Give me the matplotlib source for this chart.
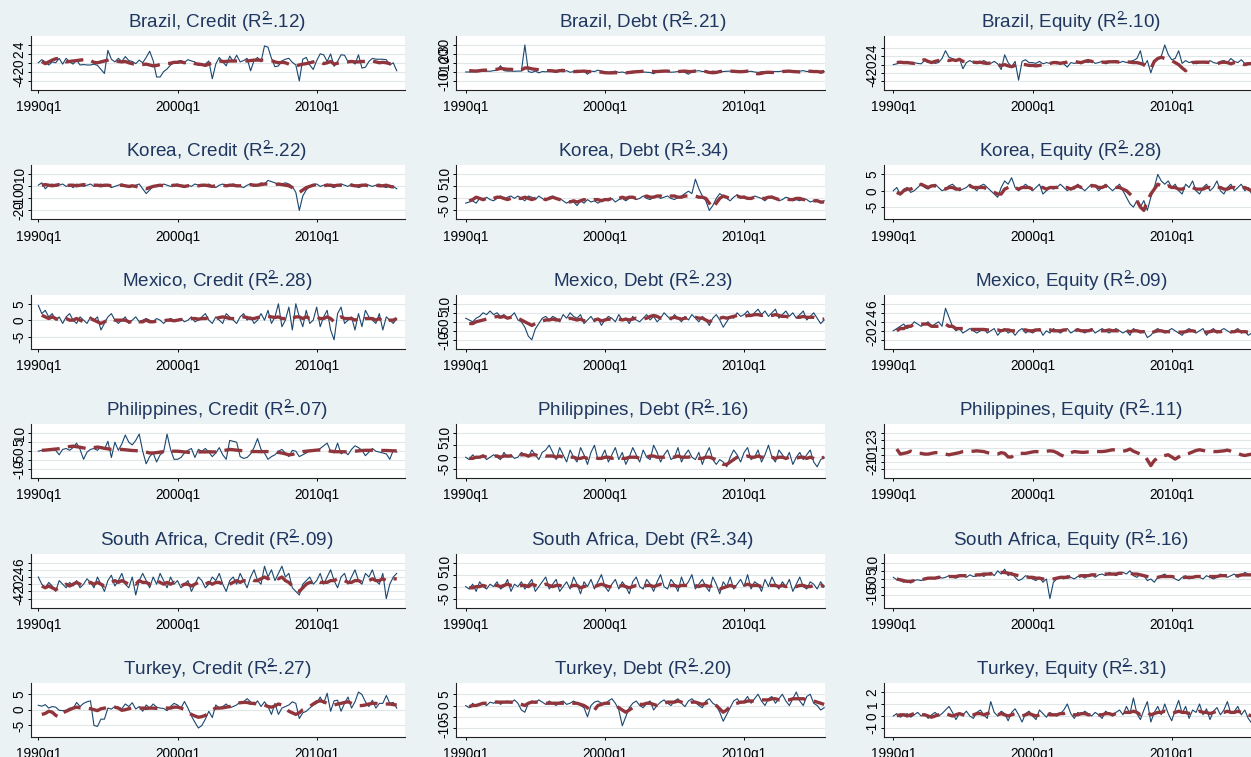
import numpy as np
import matplotlib
matplotlib.use("Agg")
import matplotlib.pyplot as plt

# ---------------- data ----------------
X_TICKS = [0, 40, 80]
X_LABELS = ["1990q1", "2000q1", "2010q1"]
COUNTRIES = ["Brazil", "Korea", "Mexico", "Philippines", "South Africa", "Turkey"]
KINDS = ["Credit", "Debt", "Equity"]
R2 = [[".12", ".21", ".10"],
      [".22", ".34", ".28"],
      [".28", ".23", ".09"],
      [".07", ".16", ".11"],
      [".09", ".34", ".16"],
      [".27", ".20", ".31"]]
YTICKS = [[[-4, -2, 0, 2, 4], [-10, 0, 10, 20, 30], [-4, -2, 0, 2, 4]],
          [[-20, -10, 0, 10], [-5, 0, 5, 10], [-5, 0, 5]],
          [[-5, 0, 5], [-10, -5, 0, 5, 10], [-2, 0, 2, 4, 6]],
          [[-10, -5, 0, 5, 10], [-5, 0, 5, 10], [-2, -1, 0, 1, 2, 3]],
          [[-4, -2, 0, 2, 4, 6], [-5, 0, 5, 10], [-10, -5, 0, 5, 10]],
          [[-5, 0, 5], [-10, -5, 0, 5], [-1, 0, 1, 2]]]

BRA_CR = [0, 0.7, 0.2, -0.5, 0.2, 0, 1.0, -0.3,
          1.0, 0.2, -0.3, 0.6, -0.5, -0.4, -0.5, -0.5,
          -0.3, -0.6, -1.5, -2.4, 2.8, 0.8, 0.2, 1.0,
          0.3, 1.4, 0.5, 0.3, -0.2, 0.6, 0.0, 1.2,
          2.6, 0.5, -3.2, -3.2, -2.0, -1.4, -0.5, 0.0,
          0.3, 0.5, 0.1, 0.7, 0.4, 0.2, -0.6, -0.5,
          -0.3, 0.4, -3.6, -0.3, 1.2, 0.2, -0.7, 1.5,
          0.3, 1.7, 0.2, 0.5, 1.0, -1.8, 0.5, 1.2,
          0.2, 3.8, 3.5, 1.0, -0.9, -0.7, 0.4, 0.8,
          1.0, 0.1, -0.5, -4.1, 0.8, 1.2, -0.5, -1.5,
          0.5, 2.0, 1.8, 0.3, 2.0, -0.8, 0.3, 1.8,
          1.7, 0.2, 0.5, -0.3, 1.8, -1.2, -1.0, 0.3,
          1.0, 0.8, 0.8, 0.8, 0.7, -0.5, 0.0, -1.8]
BRA_CR_FIT = [None, 0.3, -0.2, 0.2, 0.6, 0.9, 1.0, 0.6,
              0.2, 0.3, 0.4, 0.5, 0.6, 0.7, 0.8, 0.5,
              0.1, 0.0, 0.2, 0.4, 0.6, 0.8, 0.5, 0.3,
              0.2, 0.3, 0.0, -0.2, -0.4, -0.5, -0.4, -0.3,
              -0.5, -0.7, -0.6, -0.4, -0.3, -0.2, -0.1, 0.1,
              0.1, 0.2, 0.0, 0.2, 0.1, -0.2, -0.3, -0.4,
              -0.6, -0.3, -0.1, 0.3, 0.4, 0.3, 0.3, 0.4,
              0.4, 0.4, 0.4, 0.5, 0.4, 0.5, 0.6, 0.6,
              0.6, 0.6, 0.5, 0.5, 0.2, 0.0, 0.1, 0.0,
              -0.3, -0.6, -0.7, -0.5, -0.3, -0.2, 0.0, 0.2,
              0.4, 0.2, -0.2, 0.0, 0.3, -0.3, -0.1, 0.0,
              0.2, 0.2, 0.3, 0.2, 0.2, 0.3, 0.3, 0.2,
              0.4, 0.2, 0.0, 0.1, 0.0, -0.2, -0.3, -0.3]

BRA_DE = [0, 0, 0.2, 0.3, 0.5, 0.8, 1.0, 0.8,
          1.5, 2.0, 7.0, 1.5, 1.0, 1.0, 0.8, 1.0,
          1.0, 30, 0.5, -0.5, 1.0, -1.0, 0.5, 0.2,
          1.0, 0.5, -0.5, 1.0, 0.2, 1.5, -0.3, 0.5,
          2.0, 1.0, 0.8, -2.5, 1.0, 0.5, 2.0, 1.0,
          0.5, -0.5, 0.2, 1.0, -0.5, 0.0, -1.0, -1.5,
          -1.0, 0.5, 0.8, 0.0, -0.3, -0.5, -2.0, 0.5,
          0.2, 0.5, 1.0, -0.3, 0.0, 0.5, 1.2, -0.5,
          -2.5, 0.5, 1.0, 1.5, 0.5, 0.8, 0.0, 1.0,
          0.5, 0.2, 0.5, 0.8, 1.0, 0.0, 1.2, 1.5,
          1.0, 0.5, 0.8, 0.0, -0.5, 0.3, 0.5, 0.0,
          0.2, 0.5, 0.5, 1.0, 1.0, 0.5, 1.0, 0.8,
          1.0, 1.5, 0.5, 1.0, 0.5, 0.8, -1.5, 0.5]
BRA_DE_FIT = [None, 1.5, 1.2, 1.0, 1.5, 2.0, 2.0, 2.2,
              2.5, 3.0, 4.0, 3.5, 3.0, 3.0, 2.5, 2.5,
              2.2, 4.5, 4.5, 3.5, 3.0, 2.5, 2.0, 1.5,
              1.5, 1.2, 0.8, 1.5, 1.8, 1.2, 1.0, 0.5,
              0.5, 0.8, 1.0, 0.5, 0.5, 1.0, 0.2, -0.2,
              -0.8, -1.0, -1.0, -0.8, -1.0, -0.8, -1.0, -0.5,
              0.0, 0.3, 0.5, 0.8, 1.0, 1.0, 0.5, 0.5,
              0.8, 1.0, 1.0, 0.5, 0.2, 0.5, 0.8, 1.0,
              0.5, 0.5, 1.0, 1.5, 1.0, 0.5, -0.5, -0.8,
              -0.5, 0.5, 0.8, 1.0, 1.0, 0.8, 0.5, 0.3,
              0.5, 1.0, 1.0, -1.0, -2.0, -1.5, -0.5, -0.3,
              -0.5, -0.5, 0.0, 0.5, 0.8, 1.0, 0.5, 0.3,
              0.0, 0.5, 1.0, 0.8, 0.5, 0.5, 0.0, 0.5]

BRA_EQ = [0, 0.2, 0.5, 0.3, 0.8, 0.2, 0.5, 0.3,
          0.2, 1.0, 0.5, 0.8, 0.3, 0.5, 1.5, 3.4,
          1.8, 1.5, 0.8, 1.5, -1.0, 0.5, 1.0, 0.5,
          0.8, 0.5, 1.0, 0.5, 0.3, 0.8, 0.2, -1.2,
          2.4, 0.5, -0.5, 0.8, -3.8, 0.8, 1.2, 0.5,
          0.5, 0.3, 0.8, 0.2, 0.5, 0.3, 0.5, 0.2,
          0.5, 0.2, -0.6, 0.5, 0.3, 0.5, 0.2, 0.8,
          0.5, 1.0, 0.3, 0.5, 0.8, 0.2, 0.5, 0.8,
          1.0, 0.5, 0.8, 0.5, 0.8, 1.0, 1.5, 3.4,
          -0.4, 1.0, -2.0, 0.5, 1.5, 2.0, 4.8, 2.5,
          1.2, 1.5, 3.4, 0.3, 1.0, 0.5, 0.8, 0.2,
          0.5, 0.8, 0.3, 1.0, 0.5, 0.3, 0.8, 1.0,
          0.5, 1.5, 0.8, 0.5, 1.2, 0.3, 0.5, 0.0]
BRA_EQ_FIT = [None, 0.5, 0.6, 0.5, 0.5, 0.4, 0.3, 0.6,
              1.0, 1.2, 0.8, 0.5, 0.8, 1.0, 1.3, 1.2,
              1.0, 1.2, 1.0, 1.3, 0.8, 0.7, 0.5, 0.6,
              0.5, 0.6, 0.4, 0.3, 0.4, 0.2, 0.0, -0.2,
              0.0, -0.3, -0.5, -0.2, 0.2, 0.0, 0.0, -0.2,
              -0.2, -0.3, -0.2, 0.0, 0.2, 0.3, 0.5, 0.5,
              0.3, 0.5, 0.6, 0.8, 0.8, 0.6, 0.5, 0.8,
              1.0, 0.8, 0.6, 0.5, 0.6, 0.6, 0.7, 0.7,
              0.7, 0.6, 0.6, 0.7, 0.6, 0.5, 0.5, 0.3,
              0.0, -0.5, -1.0, 0.8, 1.5, 1.8, 1.5, 1.2,
              1.0, 0.5, 0.0, -0.8, -1.5, -0.5, 0.5, 0.6,
              0.6, 0.6, 0.6, 0.5, 0.4, 0.2, 0.5, 0.6,
              0.5, 0.2, 0.5, 0.6, 0.3, 0.0, 0.2, 0.3]

KOR_CR = [1, 3, -2, 1, 2, 0, 1, 2,
          0, 1, -1, 2, 1, 0, 1, 2,
          0, 1, 2, 0, 1, -1, 0, 1,
          2, 1, -1, 0, 1, 2, -2, -6,
          -3, 0, 1, 0, 2, 1, 0, 1,
          2, 0, -1, 1, 0, 2, 1, 0,
          1, 2, 0, -1, 1, 2, 0, 1,
          2, 1, 0, -1, 1, 2, 0, 1,
          3, 2, 5, 4, 3, 1, 2, 3,
          2, 0, -5, -20, -8, -3, 0, 1,
          2, 0, 1, 2, 0, -1, 1, 2,
          1, 0, 2, 1, -1, 0, 2, 1,
          0, 1, 2, 0, -1, 1, 0, -2]
KOR_CR_FIT = [None, 1, 1.5, 1, 0.5, 1, 1.5, 1,
              0.5, 1, 1, 0.5, 1, 1.5, 1, 0.5,
              1, 1, 0.5, 1, 1, 0.5, 1, 1,
              1, 0.5, 0, 0.5, 0, -1, -1.5, -2,
              -1, 0, 0.5, 1, 0.5, 0, 0.5, 1,
              1, 0.5, 0, 0.5, 1, 1, 0.5, 1,
              1, 0.5, 0, 0.5, 1, 1, 0.5, 1,
              1, 0.5, 0.5, 1, 1, 1.5, 1, 1,
              1.5, 2, 2, 1.5, 1.5, 2, 1.5, 1,
              0.5, -1, -3, -5, -3, -1, 0, 1,
              1.5, 1, 0.5, 1, 1, 0.5, 1, 1,
              0.5, 1, 1, 0.5, 0.5, 1, 1, 0.5,
              1, 1, 0.5, 0.5, 1, 0, -0.5, -1]

KOR_DE = [-2, -1.5, -1, -2, 0, -1, 0.5, -0.5,
          -1, 0, 1, -0.5, 0.5, 1, 0, 1,
          0, -1, 1, 0.5, -0.5, 1, 0, -1,
          0.5, 1, -0.5, 0, -1, -2, -1, -1.5,
          -3, -1, -2, -0.5, -1.5, -1, -2, -1,
          -0.5, -1, 0, -1.5, -0.5, 0, -1, 0,
          0.5, -0.5, 0, 1, 0, -0.5, 0.5, 1,
          0, 0.5, 1, 0, -0.5, 0.5, 1, 2,
          3, 2, 8, 4, 1, -1, -5, -3,
          0, 2, 1, 0, -1, 0.5, 1.5, 0,
          1, 0, -0.5, 1, 0.5, 0, -1, 0.5,
          1, 0, -1, -0.5, 0.5, 0, -1, -0.5,
          -1, 0, -0.5, -1.5, -1, -0.5, -2, -1]
KOR_DE_FIT = [None, -1, -0.5, 0.5, 0, -0.5, 0, 0.5,
              0, 0.5, 0.5, 0, -0.5, 0, 0.5, 0,
              0, 0.5, 0, -0.5, 0, 0.5, 0, -0.5,
              0, 0.5, 0, -0.5, -1, -1, -1.5, -1,
              -1.5, -1, -0.5, -1, -1, -0.5, -0.5, -1,
              -0.5, -0.5, 0, -0.5, 0, 0.5, 0, 0.5,
              0.5, 0, 0.5, 0.5, 1, 0.5, 0.5, 1,
              1, 0.5, 0.5, 1, 1, 0.5, 0.5, 1,
              1, 1, 1, 0.5, 0.5, 0, -2, -4,
              -2, 0, 1, 0.5, 0, 0.5, 1, 0.5,
              0.5, 0, 0, 0.5, 0.5, 0, 0, 0.5,
              0.5, 0, -0.5, 0, 0, -0.5, -0.5, 0,
              0, -0.5, -0.5, -1, -1, -1, -1.5, -1.5]

KOR_EQ = [0, 1, -1, 0.5, 1, -0.5, 0, 1,
          2, 1, 0.5, 1.5, 2, 1, 0, 0.5,
          1.5, 2, 1, 0, 0.5, 1, 2, 1,
          0, 1.5, 2, 1, 0, -1, -2, 1,
          3, 2, 4, 1, 0, 1, 2, 1,
          0, 1, 2, -1, 0, 1, 0.5, 1,
          2, 1, 0, 1, 0.5, 2, 1, 0,
          1, 2, 1.5, 0, 1, 2, 1, 0,
          1, 2, 0, -2, -4, -5, -3, -5,
          -3, -6, -2, 1, 5, 3, 2, 3,
          1, 2, 0, -1, 2, 1, 3, 0,
          -1, 1, 2, 0, 1, 3, 0, -1,
          1, 2, 0, 1, 2, 0, 1, -1]
KOR_EQ_FIT = [None, -0.5, -1, 0, 0.5, 0.5, 1, 1,
              2, 1.5, 1, 1.5, 1.5, 1, 1, 0.5,
              1, 1, 0.5, 0.5, 1, 1, 1.5, 1,
              1, 1, 1, 0.5, 0, -0.5, -1, -1,
              0.5, 1, 1.5, 1, 0.5, 1, 1, 1,
              0.5, 0.5, 1, 1, 0.5, 1, 1, 1,
              1.5, 1, 1, 0.5, 1, 1.5, 1, 1,
              1, 1.5, 1.5, 1, 1, 1.5, 1, 1,
              1, 1, 0.5, 0, -1, -2, -3, -5,
              -6, -3, -1, 0.5, 2, 1.5, 1, 1.5,
              1, 1, 0.5, 0.5, 1, 1, 1, 0.5,
              0.5, 0.5, 1, 1, 0.5, 1, 1, 0.5,
              0.5, 1, 1, 0.5, 1, 1, 0.5, 0]

MEX_CR = [4.5, 2, 3, 1, 2, 0, 1, -1,
          1, 2, 0, -1, 1, 0, -1, 1,
          0, 1, -3, -1, 1, 2, 0, -1,
          0, 1, -1, 0, 1, -0.5, 0, 0.5,
          0, -0.5, 0.5, 0, -1, 0, 0.5, 0,
          0, 0.5, -0.5, 0, 1, -0.5, 0, 1,
          2, 0, -1, 1, 0, -1, 2, 1,
          0, -1, 1, 2, 0, 1, -1, 0,
          2, 0, 3, -1, 1, 5, -2, 0,
          4, -3, 5, 1, -2, 3, -1, 0,
          4, -2, 1, 3, -3, -6, 2, 4,
          -1, 0, 1, -3, 2, -2, 3, 1,
          0, -1, 2, -3, 1, 0, -1, 0.5]
MEX_CR_FIT = [None, 1.5, 1, 0.5, 1, 0.5, 0, 0.5,
              0.5, 0, 0, 0.5, 0, -0.5, 0, 0.5,
              0, -0.5, -1, -0.5, 0, 0.5, 0, 0,
              0, 0, -0.5, -0.5, 0, -0.5, -0.5, 0,
              -0.5, -0.5, -0.3, -0.2, -0.2, 0, 0, -0.2,
              0, 0.2, 0.2, 0.3, 0.5, 0.5, 0.3, 0.5,
              0.5, 0.8, 0.5, 0.5, 0.8, 1, 0.8, 0.5,
              0.5, 0.5, 0.8, 1, 0.8, 0.5, 0.5, 0.8,
              1, 1, 1.2, 1, 0.8, 1, 0.5, 0.5,
              1, 0.5, 1, 1, 0.5, 1, 0.5, 0.5,
              1, 0.5, 0.5, 1, 0.5, -0.5, 0.5, 1,
              0.5, 0.5, 0.5, 0, 0.5, 0, 0.5, 0.5,
              0.5, 0, 0.5, -0.5, -0.5, 0, 0, 0.5]

MEX_DE = [2, 1, 0, 2, 3, 5, 4, 6,
          4, 5, 3, 4, 2, 3, 5, 1,
          0, -3, -8, -10, -4, -1, 2, 3,
          1, 3, 2, 0, 4, 2, 5, 3,
          2, 4, -1, 1, 3, 0, 2, -2,
          1, 3, 2, 0, 4, 1, 2, -1,
          3, 1, 0, 2, 4, 1, 3, 0,
          2, 5, 3, 1, 4, 2, 0, 3,
          1, 4, 2, 0, 3, 1, -2, 2,
          4, 1, -3, 0, 3, 2, 5, 3,
          4, 6, 3, 5, 7, 4, 6, 3,
          5, 7, 2, 4, 6, 3, 5, 2,
          4, 6, 1, 3, 5, 2, -1, 1]
MEX_DE_FIT = [None, -1, -1, 0, 0.5, 1, 1.5, 2,
              2.5, 3, 2.5, 3, 2, 2.5, 3, 2,
              1, 0, -1, -2, -1, 0, 0.5, 1,
              1, 1.5, 1, 1, 1.5, 1, 2, 1.5,
              1, 1.5, 0.5, 1, 1.5, 1, 1.5, 0.5,
              1, 1.5, 1, 1, 1.5, 1, 1.5, 1,
              1.5, 2, 1.5, 1.5, 2, 3, 3.5, 3,
              2, 2.5, 2, 2, 2.5, 2, 1.5, 2,
              2, 2.5, 2.5, 2, 2, 1, 0, 1,
              2, 2, 2.5, 2, 2.5, 3, 3.5, 3,
              3, 3.5, 3.5, 4, 4, 3.5, 4, 3.5,
              3.5, 4, 3.5, 3, 3, 2.5, 3, 2.5,
              2.5, 3, 2.5, 2.5, 2.5, 2, 1.5, 1.5]

MEX_EQ = [0, 0.5, 1, 1.5, 0.5, 1, 2, 1.5,
          1, 1.5, 2, 1, 1.5, 2, 1, 5,
          3, 1, 0, 0.5, -0.5, 0, 0.5, 0,
          -0.5, 0, 0.5, -0.5, 0, 0.5, -1, 0,
          0.5, -0.5, 0, -1, 0, 0.5, -0.5, 0,
          -0.5, 0, 0.5, -1, 0, -0.5, 0.5, 0,
          -0.5, 0, 0.5, -0.5, 0, 0.5, 0, -0.5,
          0, 0.5, -0.5, 0, 0.5, 0, -0.5, 0,
          0.5, 0, -0.5, 0, -1, 0.5, 0, -0.5,
          0, -1.5, -1, 0, 0.5, 0, -0.5, 0,
          0.5, 0, -0.5, -1, 0, 0.5, 0, -0.5,
          0, 0.5, -1, 0, 0.5, -0.5, 0, 0.5,
          0, -0.5, 0, 0.5, -0.5, 0, -1, -0.5]
MEX_EQ_FIT = [None, 0, 0.5, 0.5, 1, 1, 1.5, 1.5,
              1.5, 1.5, 1.5, 1, 1, 1, 1.5, 1.5,
              1, 1, 0.5, 0.5, 0.5, 0.5, 0.3, 0.3,
              0.3, 0.3, 0.3, 0.2, 0.2, 0.2, 0.2, 0,
              0.2, 0.2, 0, 0, 0, 0.2, 0.2, 0,
              0, 0.2, 0.2, 0, 0.2, 0.2, 0, 0,
              0, 0.2, 0.2, 0, 0, 0.2, 0, 0,
              0, 0.2, 0.2, 0, 0, 0, 0.2, 0,
              0, 0, -0.2, 0, -0.2, 0, 0, -0.2,
              -0.2, -0.5, -0.5, -0.2, 0, 0, -0.2, -0.2,
              -0.2, -0.2, -0.3, -0.3, -0.2, 0, 0, -0.2,
              -0.2, -0.2, -0.3, -0.2, 0, -0.2, -0.2, 0,
              0, -0.2, -0.2, 0, -0.2, -0.2, -0.3, -0.3]

PHL_CR = [0, 0.5, 0.5, 1, 1, 0.5, -2, 1,
          1.5, 0.5, 2, 4.5, 1, -4.5, -0.5, 1,
          1.5, 0.5, 2.5, 1, 5.5, -3.5, 5.0, 0.5,
          4, 9, 5, 3.5, 6, 9.5, 0, -7,
          -3, -1, -6, -2, -0.5, 9.5, 1, -4.5,
          -4.5, -3.5, -1, 0.5, 1.5, -3.5, 1, 0,
          1.5, -0.5, -3, -1, 2, -2, -4.5, 6,
          5.5, 5, -3, -4, -3.5, -1.5, 2, 7,
          1, -1, -4.5, -3, -2, 0, 1, -1,
          -3, 0.5, 0, -3, -2, -1, 0.5, 0,
          0.5, 1.5, 3, 4.5, 0, -1, 4.5, -1.5,
          0, -2, 1, 3, 2, 0.5, -2.5, -0.5,
          1.5, 0, -0.5, -1, -1.5, -4.5, 0.5, -0.5]
PHL_CR_FIT = [None, 0.5, 0.6, 0.8, 1.0, 1.2, 1.4, 1.8,
              2.2, 2.6, 2.8, 2.5, 2.2, 1.8, 1.4, 1.5,
              2.0, 2.3, 2.0, 1.6, 1.3, 1.0, 1.0, 1.0,
              1.0, 0.8, 0.6, 0.4, 0.3, 0.2, 0.0, -0.5,
              -1.0, -1.0, -0.8, -0.5, -0.2, 0.2, 0.1, 0.0,
              0.0, -0.2, -0.4, -0.6, -0.8, -0.6, -0.4, -0.4,
              -0.4, -0.3, -0.4, -0.4, -0.2, 0.2, 0.6, 1.0,
              0.8, 0.6, 0.4, 0.2, 0.0, -0.2, -0.2, -0.2,
              -0.3, -0.2, -0.2, -0.3, -0.5, -0.7, -1.0, -1.5,
              -2.0, -1.8, -1.2, -0.6, -0.2, 0.0, 0.2, 0.4,
              0.6, 0.7, 0.6, 0.4, 0.0, -0.2, -0.3, -0.3,
              -0.3, -0.3, -0.2, 0.0, 0.2, 0.4, 0.5, 0.5,
              0.5, 0.5, 0.5, 0.4, 0.4, 0.3, 0.2, 0.2]

PHL_DE = [0, -1, 1, -0.5, 0, 1, -1, 0,
          1, 0, -1, 2, 0, 1, -0.5, 0,
          2, 1, 0, 3, 1, -1, 2, 3,
          5, 2, -1, 4, 1, -2, 3, 0,
          -2, 4, 1, -3, 2, 5, -1, 0,
          3, -2, 1, 4, -1, 2, -3, 0,
          4, 1, -2, 3, 0, -1, 5, 2,
          -2, 1, 3, -1, 0, 4, -2, 1,
          3, 0, -1, 2, -3, 1, 4, -1,
          -3, -1, -2, -4, 0, 3, 1, -2,
          2, 4, -1, 0, 3, -2, 1, 5,
          0, -2, 3, 1, -1, 2, -3, 0,
          2, -1, 1, 3, -2, -4, -1, 0]
PHL_DE_FIT = [None, -0.5, -0.5, 0, 0, 0.5, 0, 0,
              0.5, 0.5, 0, 0.5, 0.5, 0.5, 1, 0.5,
              1, 1, 0.5, 1, 1, 0.5, 1, 0.5,
              0.5, 0.5, 0, 0.5, 0, -0.5, 0, 0,
              -0.5, -0.5, 0, -0.5, 0, 0, -0.5, -0.5,
              0, 0, -0.5, 0, 0, -0.5, -0.5, 0,
              0, 0, -0.5, 0, 0, 0.5, 0.5, 0,
              0, 0, 0.5, 0, 0, 0.5, 0, 0,
              0, 0.5, 0, -0.5, -0.5, 0, 0, -0.5,
              -1, -2, -3, -3, -2, -1, 0, 0,
              0, 0.5, 0, 0, 0.5, 0, 0, 0.5,
              0, -0.5, 0, 0, -0.5, 0, -0.5, -0.5,
              0, 0, -0.5, 0, -0.5, -1, -0.5, 0]

PHL_EQ = None  # no actual series drawn in this panel
PHL_EQ_FIT = [None, 0.8, 0.1, 0.2, 0.3, 0.5, 0.3, 0.2,
              0.2, 0.1, 0.1, 0.2, 0.3, 0.3, 0.2, 0.1,
              0.0, 0.1, 0.2, 0.3, 0.45, 0.5, 0.5, 0.5,
              0.55, 0.5, 0.45, 0.3, 0.2, 0.05, 0.1, 0.3,
              0.2, -0.3, -0.3, 0.1, 0.2, 0.2, 0.2, 0.3,
              0.4, 0.45, 0.4, 0.4, 0.5, 0.55, 0.5, 0.3,
              0.0, -0.2, 0.1, 0.3, 0.45, 0.4, 0.35, 0.35,
              0.4, 0.4, 0.45, 0.45, 0.45, 0.5, 0.6, 0.7,
              0.65, 0.55, 0.5, 0.6, 0.8, 0.5, 0.3, 0.1,
              0.0, -0.7, -1.5, -0.8, -0.4, -0.2, -0.1, 0.0,
              -0.3, -0.6, -0.3, 0.0, 0.1, 0.2, 0.4, 0.6,
              0.7, 0.6, 0.5, 0.5, 0.45, 0.45, 0.5, 0.55,
              0.65, 0.5, 0.3, 0.2, 0.0, -0.1, 0.0, 0.1]

ZAF_CR = [2, 0, -1, 0.5, -0.5, -2, 1, 0,
          -1, 0.5, -0.5, 1, -1, 0, 1.5, 0.5,
          -1, 2, 0, -2, 1, 2.5, -0.5, 1,
          3, 0, -1, 2, -3, 1, 3, 1,
          -1, 2, 0, 3, 1, -1, 2, 0,
          1, -1, 0, 1, -2, 0, 2, 1,
          -1, 0, 2, 1, 3, 0, -2, 1,
          2, 0, 3, 1, -1, 2, 4, 1,
          0, 5, 2, 4, 1, 3, 5, 2,
          3, -1, -2, -3, 0, 1, 2, 0,
          1, 3, 0, 2, 4, 1, -1, 2,
          3, 0, 2, 4, 1, 0, 3, 2,
          4, 1, 0, 3, -4, 0, 2, 3]
ZAF_CR_FIT = [None, -0.5, -1, -0.5, -1, -1.5, -1, -0.5,
              0, -0.5, 0, 0.5, 0, -0.5, 0, 0.5,
              0, 0.5, 0, -0.5, 0, 0.5, 1, 0.5,
              1, 0.5, 0, 0.5, 0, 1, 0.5, 0.5,
              0, 0.5, 1, 0.5, 0, 0.5, 0, 0.5,
              0, -0.5, 0, 0, -0.5, 0, 0.5, 0,
              0, 0.5, 0, 0.5, 0.5, 0, -0.5, 0,
              0.5, 1, 0.5, 1, 1, 1.5, 1, 1,
              1.5, 2, 1.5, 2, 2, 1.5, 2, 1,
              0.5, -0.5, -1.5, -2, -1, 0, 0.5, 0.5,
              1, 0.5, 0.5, 0.5, 1, 1, 1.5, 1,
              1, 0.5, 0.5, 1, 1, 0.5, 1, 1,
              1.5, 1, 1, 1.5, 1, 1, 1.5, 1.5]

ZAF_DE = [0, -1, 1, -2, 2, 0, -1, 1,
          0, 2, -1, 0, 3, -2, 1, 0,
          2, -1, 1, 3, -2, 0, 2, 4,
          -1, 1, 3, -2, 0, 2, -1, 4,
          1, -3, 2, 0, 3, -1, 2, 5,
          0, -2, 1, 3, -1, 2, 0, -3,
          2, 4, 0, -1, 3, 1, -2, 2,
          5, 0, -1, 3, 1, -2, 4, 0,
          2, 5, -1, 1, 3, 0, -2, 4,
          1, -3, 2, 0, 4, -1, 1, 3,
          0, 5, -1, 2, 1, -2, 3, 0,
          4, 1, -1, 2, 0, 3, -2, 1,
          4, 0, -1, 2, 1, -1, 2, 0]
ZAF_DE_FIT = [None, -0.5, -0.5, 0, 0, 0.5, 0, 0,
              0.5, 0.5, 0, 0.5, 1, 0.5, 0.5, 0,
              0.5, 0.5, 0, 1, 0.5, 0, 0.5, 1,
              0.5, 0, 0.5, 0.5, 0, 0.5, 0, 0.5,
              0.5, -0.5, 0, 0.5, 0.5, 0, 0.5, 1,
              0.5, 0, 0, 0.5, 0, 0.5, 0, -0.5,
              0, 0.5, 0.5, 0, 0.5, 0.5, 0, 0.5,
              1, 0.5, 0, 0.5, 0.5, 0, 0.5, 0.5,
              0.5, 1, 0.5, 0, 0.5, 0.5, 0, 0.5,
              0.5, -1, -0.5, 0, 0.5, 0, 0, 0.5,
              0.5, 1, 0.5, 0.5, 0.5, 0, 0.5, 0.5,
              0.5, 0.5, 0, 0.5, 0, 0.5, 0, 0,
              0.5, 0.5, 0, 0, 0.5, 0, 0.5, 0]

ZAF_EQ = [1, -0.5, -1, -2, -1, -2.5, -1, -0.5,
          -1, 0, 0.5, 1, 0, 1.5, 0.5, 1,
          2, 1, 0.5, 1.5, 2, 1, 2.5, 1.5,
          2, 3, 1.5, 3, 4, 2, 5, 3,
          6, 2, 4, 1, -1, 0, 2, 1,
          0, -1, 1, -2, 0, -12, -2, 0,
          1, 0, 2, 1, 0, 1.5, 2, 0.5,
          2, 3, 1, 2.5, 3, 2, 4, 3,
          2, 3.5, 4, 3, 5, 2, 1, 3,
          2, -1, 0, -2, 1, 2, 3, 1,
          2, 0, -1, 1, 2, 0, 1, 2,
          1, 0, 2, 1, 0, 1, 3, 2,
          1, 2, 3, 1, 2, 4, 3, 2]
ZAF_EQ_FIT = [None, 0, -0.5, -1, -1.5, -1.5, -1, -1,
              -0.5, 0, 0.5, 0.5, 0.5, 1, 1, 1,
              1.5, 1.5, 1.5, 2, 2, 2, 2, 2,
              2.5, 2.5, 3, 3, 3, 3.5, 3.5, 4,
              4, 3.5, 3, 2.5, 2, 1.5, 1.5, 1,
              1, 0.5, 0.5, 0, 0, -0.5, 0, 0.5,
              1, 1, 1, 1.5, 1.5, 1.5, 2, 2,
              2, 2.5, 2.5, 2.5, 3, 3, 3, 3,
              3, 3.5, 3.5, 3.5, 3.5, 3, 3, 2.5,
              2, 1.5, 1, 1, 1, 1.5, 1.5, 1.5,
              1.5, 1, 1, 1, 1, 1, 1, 1.5,
              1.5, 1.5, 1.5, 1.5, 1.5, 1.5, 2, 2,
              2, 2, 2, 2, 2.5, 2.5, 2.5, 2.5]

TUR_CR = [1.4, 1.1, 1.6, 0.5, 1.0, 0.8, -0.2, -0.3,
          -0.2, 0.5, 0.3, 2.3, 1.0, 2.0, 2.5, 2.8,
          -5.0, -5.3, -3.0, -3.0, 0.5, 0.2, 1.0, 0.8,
          0.3, 1.8, 1.0, 2.2, 0.2, 1.0, -0.5, 1.5,
          0.5, 1.8, 0.8, 0.5, 0.4, -0.3, 1.0, 2.0,
          1.5, 0.5, 2.6, 0.5, -2.0, -4.0, -5.8, -5.0,
          -3.0, -0.5, -2.5, 1.5, 0.5, 1.0, 1.8, 0.6,
          1.0, 1.5, 2.5, 2.5, 3.5, 2.5, 1.5, 2.8,
          1.0, 2.5, 1.0, -1.5, 2.0, -1.5, 0.5, 1.0,
          1.5, 2.5, 2.0, -2.8, -1.0, -0.5, 0.5, 1.5,
          2.0, 4.0, 2.0, 5.2, -0.5, 2.8, 3.0, -0.5,
          2.0, 4.0, 0.5, 2.5, 5.6, 4.8, 2.5, 1.0,
          3.0, 0.5, 2.0, 2.0, 4.5, 2.0, 2.3, 0.5]
TUR_CR_FIT = [None, -1.5, -1.2, -0.5, -0.8, -1.8, -2.3, -1.0,
              -0.5, 0.0, 0.5, 0.8, 0.6, 0.5, 0.5, 0.3,
              0.0, -0.3, 0.3, 0.5, 0.8, 0.8, 0.8, 0.5,
              -0.2, 0.0, 0.3, 0.6, 0.5, 0.5, 0.5, 0.4,
              0.5, 0.5, 0.4, 0.4, 0.5, 0.5, 0.5, 0.8,
              0.8, 0.5, 0.0, -1.0, -1.5, -2.0, -2.4, -2.2,
              -1.8, -1.0, 0.0, 0.5, 0.5, 0.6, 0.8, 1.0,
              1.5, 2.0, 2.2, 2.3, 2.3, 2.0, 2.0, 1.8,
              1.8, 1.5, 1.0, 0.8, 1.2, 1.8, 1.5, 0.5,
              -0.5, -1.0, -1.5, -1.0, 0.0, 0.5, 1.0, 1.8,
              2.5, 2.8, 2.5, 2.0, 1.5, 1.5, 1.8, 2.0,
              2.3, 2.5, 2.0, 1.5, 1.3, 1.3, 1.5, 1.8,
              2.0, 2.0, 1.8, 1.8, 1.8, 1.8, 1.6, 1.5]

TUR_DE = [0, -1, 1, -0.5, 0.5, 1, 0, 1.5,
          1, 2, 0.5, 1.5, 2, 1, 2.5, 1,
          -2, -3, 1, 2, 1, 2.5, 1.5, 0.5,
          2, 1, 0, 1.5, 2, 0.5, 1, 2,
          1, 0, -1, -5, 0, 1.5, 2, 1,
          0.5, 2, 3, 1, -2, -9, -5, -1,
          1, 2, 0, -1, 1, 2, -2, 0,
          1.5, 2.5, 1, 0, 2, 3, 1, -0.5,
          2, 3, 1.5, 0, -1, 2, 3, 1,
          0, -3, -7, -4, -1, 2, 3, 1,
          2, 4, 1, 3, 5, 2, 0, 3,
          4, 1, 3, 5, 2, 0, 3, 6,
          2, 0, 4, 5, 1, 0, -2, -1]
TUR_DE_FIT = [None, -0.5, 0, 0, 0.5, 1, 1, 1,
              1.5, 1.5, 1.5, 1.5, 1.5, 1.5, 1.5, 1,
              0.5, 0, 1, 1.5, 1.5, 1.5, 1, 1,
              1, 1, 1, 1, 1, 1, 1, 1,
              1, 0.5, 0, -1, -3, -2, 0, 0.5,
              1, 1, 1, 0.5, -1, -2, -3, -2,
              -1, 0, 0.5, 0.5, 1, 1, 0.5, 0,
              0.5, 1, 1.5, 1.5, 1.5, 2, 1.5, 1,
              1, 1.5, 1.5, 1, 0.5, 1, 1.5, 1,
              0, -1.5, -3, -2, -0.5, 0.5, 1, 1.5,
              1.5, 2, 2, 2, 2.5, 2.5, 2.5, 2.5,
              3, 3, 2.5, 2.5, 2.5, 2.5, 3, 3,
              3, 3, 2.5, 2, 2, 1.5, 1, 0.5]

TUR_EQ = [0, 0.2, -0.1, 0.1, 0.2, -0.1, 0.1, 0.3,
          0, 0.2, -0.2, 0.1, 0.3, 0, 0.2, 0.5,
          0.8, 0.3, -0.3, 0.2, 0.1, 0.4, 0, -0.2,
          0.3, 0.5, 0.1, -0.2, 1.2, 0.3, 0, 0.4,
          0.2, -0.4, 0.3, 0.6, 0.1, -0.5, 0.2, 0.4,
          0, -0.3, 0.5, 0.2, -0.1, 0.3, 0.1, 0,
          0.2, 0.5, 1.0, 0.2, -0.2, 0.3, 0.1, 0.4,
          0.2, 0, 0.3, 0.1, -0.2, 0.4, 0.2, 0,
          0.3, 0.5, 0.1, 0.8, 0.2, 1.5, 0.2, -0.3,
          0.5, 1.2, -0.5, 0.3, 0.8, 0.1, 1.0, 0.2,
          -0.4, 0.5, 1.3, 0.2, 0.8, -0.2, 0.5, 0.3,
          1.0, 0.1, 0.6, -0.3, 0.4, 0.7, 0.1, 0.5,
          1.2, 0.2, 0.4, 0.8, 0.1, 0.5, -0.2, -0.6]
TUR_EQ_FIT = [None, 0, 0.1, 0.1, 0, 0.1, 0.2, 0.1,
              0.1, 0.1, 0, -0.1, 0, 0.1, 0.2, 0.2,
              0.1, 0, 0.1, 0.2, 0.1, 0, 0.1, 0.1,
              0.2, 0.2, 0.1, 0.2, 0.3, 0.2, 0.1, 0.2,
              0.1, 0, 0.1, 0.2, 0.1, 0, 0.1, 0.2,
              0.1, 0, 0.1, 0.2, 0.2, 0.1, 0.1, 0.1,
              0.2, 0.2, 0.3, 0.2, 0.1, 0.1, 0.2, 0.2,
              0.1, 0.1, 0.2, 0.1, 0.1, 0.2, 0.2, 0.1,
              0.2, 0.2, 0.3, 0.3, 0.3, 0.4, 0.3, 0.1,
              0.2, 0.3, 0.1, 0.2, 0.3, 0.3, 0.4, 0.3,
              0.2, 0.3, 0.4, 0.3, 0.3, 0.2, 0.3, 0.3,
              0.4, 0.3, 0.3, 0.2, 0.3, 0.4, 0.3, 0.3,
              0.4, 0.3, 0.3, 0.4, 0.3, 0.3, 0.1, 0]

ACTUAL = [[BRA_CR, BRA_DE, BRA_EQ],
          [KOR_CR, KOR_DE, KOR_EQ],
          [MEX_CR, MEX_DE, MEX_EQ],
          [PHL_CR, PHL_DE, PHL_EQ],
          [ZAF_CR, ZAF_DE, ZAF_EQ],
          [TUR_CR, TUR_DE, TUR_EQ]]
FITTED = [[BRA_CR_FIT, BRA_DE_FIT, BRA_EQ_FIT],
          [KOR_CR_FIT, KOR_DE_FIT, KOR_EQ_FIT],
          [MEX_CR_FIT, MEX_DE_FIT, MEX_EQ_FIT],
          [PHL_CR_FIT, PHL_DE_FIT, PHL_EQ_FIT],
          [ZAF_CR_FIT, ZAF_DE_FIT, ZAF_EQ_FIT],
          [TUR_CR_FIT, TUR_DE_FIT, TUR_EQ_FIT]]

# ---------------- style / layout ----------------
W, H = 1251, 757
BG = "#eaf2f3"
NAVY = "#1a476f"
CRAN = "#90353b"
TITLE_COLOR = "#1f3660"
GRID = "#dfe7e9"

COL_LEFT = [31, 456, 884]
COL_RIGHT = [405, 825, 1258]
COL_X0 = [38.3, 465.7, 893.3]   # pixel of 1990q1
COL_TITLE_X = [217, 643, 1071]
PPQ = 3.48                       # pixels per quarter
ROW_TOP0, ROW_STEP, PLOT_H = 36, 129.4, 54
TITLE_Y0 = 22

plt.rcParams["font.family"] = ["Liberation Sans", "DejaVu Sans"]
plt.rcParams["mathtext.fontset"] = "custom"
plt.rcParams["mathtext.rm"] = "Liberation Sans"
plt.rcParams["mathtext.it"] = "Liberation Sans:italic"
plt.rcParams["mathtext.bf"] = "Liberation Sans:bold"

fig = plt.figure(figsize=(W / 100, H / 100), dpi=100, facecolor=BG)

for r, country in enumerate(COUNTRIES):
    top = ROW_TOP0 + ROW_STEP * r
    for c, kind in enumerate(KINDS):
        left, right, x0 = COL_LEFT[c], COL_RIGHT[c], COL_X0[c]
        ax = fig.add_axes([left / W, 1 - (top + PLOT_H) / H,
                           (right - left) / W, PLOT_H / H])
        ax.set_facecolor("white")
        q = np.arange(104)
        act = ACTUAL[r][c]
        fit = np.array(FITTED[r][c], dtype=float)
        ticks = YTICKS[r][c]
        vals = [v for v in fit if not np.isnan(v)] + list(ticks)
        if act is not None:
            act = np.array(act, dtype=float)
            vals += list(act)
            ax.plot(q, act, color=NAVY, lw=0.8, zorder=3)
        ax.plot(q, fit, color=CRAN, lw=2.4, dashes=(5.4, 2.5),
                dash_capstyle="butt", zorder=4)
        lo, hi = min(vals), max(vals)
        m = (hi - lo) / 4.0
        ax.set_ylim(lo - m, hi + m)
        ax.set_xlim((left - x0) / PPQ, (right - x0) / PPQ)
        ax.set_xticks(X_TICKS)
        ax.set_xticklabels(X_LABELS)
        ax.set_yticks(ticks)
        ax.set_yticklabels([str(t) for t in ticks], rotation=90,
                           va="center")
        ax.tick_params(axis="x", length=2.4, width=0.7, pad=5,
                       labelsize=9.8, colors="black")
        ax.tick_params(axis="y", length=2.2, width=0.7, pad=1,
                       labelsize=9.8, colors="black")
        ax.yaxis.grid(True, color=GRID, lw=0.8)
        ax.set_axisbelow(True)
        for s in ("top", "right"):
            ax.spines[s].set_visible(False)
        for s in ("left", "bottom"):
            ax.spines[s].set_color("#222222")
            ax.spines[s].set_linewidth(0.8)
        title = f"{country}, {kind} (R$^{{2}}\\!\\!\\!$=" + R2[r][c] + ")"
        fig.text(COL_TITLE_X[c] / W, 1 - (TITLE_Y0 + ROW_STEP * r) / H,
                 title, ha="center", va="center", fontsize=13.6,
                 color=TITLE_COLOR)

fig.savefig("out.png", dpi=100, facecolor=BG)
